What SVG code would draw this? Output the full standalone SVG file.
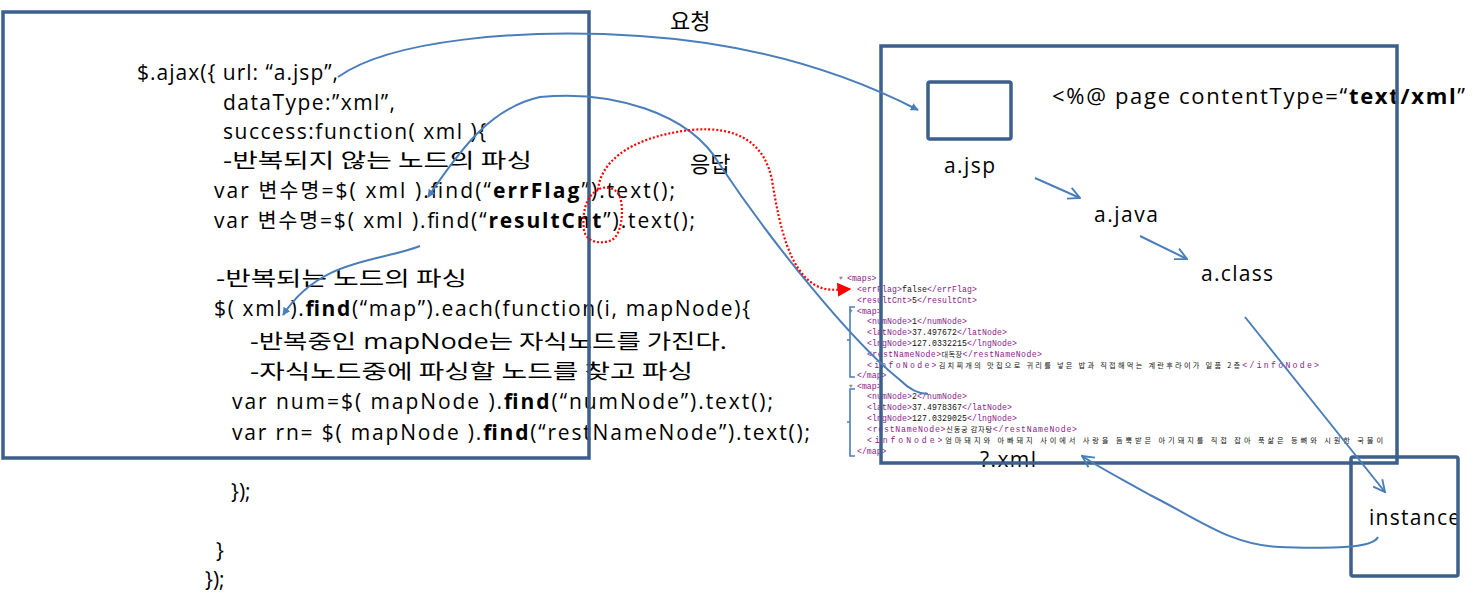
<svg xmlns="http://www.w3.org/2000/svg" width="1482" height="609" viewBox="0 0 1482 609">
<defs>
<style>
.t{font-family:"Open Sans","Noto Sans CJK KR",sans-serif;font-size:21px;fill:#000}
.k{font-family:"Noto Sans CJK KR",sans-serif;font-size:20.5px}
.kl{font-family:"Noto Sans CJK KR",sans-serif;font-size:22px}
.b{font-weight:bold}
.x{font-family:"Liberation Mono","Noto Sans CJK KR",monospace;font-size:8.2px;fill:#111}
.xk{font-family:"Noto Sans CJK KR",sans-serif;font-size:7.2px}
.g{fill:#8B1A89}
.tri{fill:#888;font-size:6px}
.box{fill:none;stroke:#3C5F8C;stroke-width:3.5}
.con{fill:none;stroke:#4A7EBB;stroke-width:2}
.red{fill:none;stroke:#FF0000;stroke-width:2.2;stroke-dasharray:2 2}
.br{fill:none;stroke:#4A7EBB;stroke-width:1.6}
</style>
<marker id="af" viewBox="0 0 10 10" refX="9" refY="5" markerWidth="8" markerHeight="8" markerUnits="userSpaceOnUse" orient="auto-start-reverse"><path d="M0,0 L10,5 L0,10 Z" fill="#4A7EBB"/></marker>
<marker id="ao" viewBox="0 0 12 12" refX="11" refY="6" markerWidth="14" markerHeight="14" markerUnits="userSpaceOnUse" orient="auto"><path d="M1,1 L11,6 L1,11" fill="none" stroke="#4A7EBB" stroke-width="1.6"/></marker>
<marker id="ar" viewBox="0 0 10 10" refX="9" refY="5" markerWidth="14" markerHeight="14" markerUnits="userSpaceOnUse" orient="auto"><path d="M0,0 L10,5 L0,10 Z" fill="#FF0000"/></marker>
</defs>
<rect width="1482" height="609" fill="#fff"/>

<g id="code">
<text class="t" x="137" y="80" textLength="201">$.ajax({ url: “a.jsp”,</text>
<text class="t" x="223" y="110" textLength="172">dataType:”xml”,</text>
<text class="t" x="223" y="139" textLength="263">success:function( xml ){</text>
<text class="t" x="223" y="168" textLength="309" lengthAdjust="spacingAndGlyphs">-<tspan class="k">반복되지 않는 노드의 파싱</tspan></text>
<text class="t" x="214" y="198" textLength="461">var <tspan class="k">변수명</tspan>=$( xml ).find(“<tspan class="b">errFlag</tspan>”).text();</text>
<text class="t" x="214" y="228" textLength="481">var <tspan class="k">변수명</tspan>=$( xml ).find(“<tspan class="b">resultCnt</tspan>”).text();</text>
<text class="t" x="216" y="286" textLength="251" lengthAdjust="spacingAndGlyphs">-<tspan class="k">반복되는 노드의 파싱</tspan></text>
<text class="t" x="214" y="316" textLength="536">$( xml ).<tspan class="b">find</tspan>(“map”).each(function(i, mapNode){</text>
<text class="t" x="250" y="349" textLength="477" lengthAdjust="spacingAndGlyphs">-<tspan class="k">반복중인</tspan> mapNode<tspan class="k">는 자식노드를 가진다</tspan>.</text>
<text class="t" x="250" y="379" textLength="443" lengthAdjust="spacingAndGlyphs">-<tspan class="k">자식노드중에 파싱할 노드를 찾고 파싱</tspan></text>
<text class="t" x="232" y="409" textLength="541">var num=$( mapNode ).<tspan class="b">find</tspan>(“numNode”).text();</text>
<text class="t" x="232" y="440" textLength="578">var rn= $( mapNode ).<tspan class="b">find</tspan>(“restNameNode”).text();</text>
<text class="t" x="231" y="499">});</text>
<text class="t" x="216" y="558">}</text>
<text class="t" x="205" y="587">});</text>
</g>

<g id="labels">
<text class="t kl" x="670" y="29">요청</text>
<text class="t kl" x="690" y="172">응답</text>
<text class="t" x="1052" y="104" textLength="413" style="font-size:22px">&lt;%@ page contentType=“<tspan class="b">text/xml</tspan>”</text>
<text class="t" x="944" y="173" textLength="51">a.jsp</text>
<text class="t" x="1094" y="222" textLength="64">a.java</text>
<text class="t" x="1201" y="281" textLength="72">a.class</text>
<text class="t" x="980" y="467" textLength="56">?.xml</text>
<text class="t" x="1369" y="525" textLength="91">instance</text>
</g>

<g id="xml">
<text class="x tri" x="839" y="280">▼</text>
<text class="x" x="847" y="281"><tspan class="g">&lt;maps&gt;</tspan></text>
<text class="x" x="857" y="292" textLength="120"><tspan class="g">&lt;errFlag&gt;</tspan>false<tspan class="g">&lt;/errFlag&gt;</tspan></text>
<text class="x" x="857" y="303" textLength="120"><tspan class="g">&lt;resultCnt&gt;</tspan>5<tspan class="g">&lt;/resultCnt&gt;</tspan></text>
<text class="x tri" x="849" y="313">▼</text>
<text class="x" x="857" y="314"><tspan class="g">&lt;map&gt;</tspan></text>
<text class="x" x="867" y="324" textLength="100"><tspan class="g">&lt;numNode&gt;</tspan>1<tspan class="g">&lt;/numNode&gt;</tspan></text>
<text class="x" x="867" y="335" textLength="140"><tspan class="g">&lt;latNode&gt;</tspan>37.497672<tspan class="g">&lt;/latNode&gt;</tspan></text>
<text class="x" x="867" y="346" textLength="150"><tspan class="g">&lt;lngNode&gt;</tspan>127.0332215<tspan class="g">&lt;/lngNode&gt;</tspan></text>
<text class="x" x="867" y="356.5" textLength="175"><tspan class="g">&lt;restNameNode&gt;</tspan><tspan class="xk">대독장</tspan><tspan class="g">&lt;/restNameNode&gt;</tspan></text>
<text class="x" x="867" y="367.5" textLength="452"><tspan class="g">&lt;infoNode&gt;</tspan><tspan class="xk">김치찌개의 맛집으로 귀리를 넣은 밥과 직접해먹는 계란후라이가 일품 2층</tspan><tspan class="g">&lt;/infoNode&gt;</tspan></text>
<text class="x" x="857" y="378"><tspan class="g">&lt;/map&gt;</tspan></text>
<text class="x tri" x="849" y="388">▼</text>
<text class="x" x="857" y="389"><tspan class="g">&lt;map&gt;</tspan></text>
<text class="x" x="867" y="399" textLength="100"><tspan class="g">&lt;numNode&gt;</tspan>2<tspan class="g">&lt;/numNode&gt;</tspan></text>
<text class="x" x="867" y="410" textLength="145"><tspan class="g">&lt;latNode&gt;</tspan>37.4978367<tspan class="g">&lt;/latNode&gt;</tspan></text>
<text class="x" x="867" y="421" textLength="150"><tspan class="g">&lt;lngNode&gt;</tspan>127.0329025<tspan class="g">&lt;/lngNode&gt;</tspan></text>
<text class="x" x="867" y="431.5" textLength="210"><tspan class="g">&lt;restNameNode&gt;</tspan><tspan class="xk">신동궁 감자탕</tspan><tspan class="g">&lt;/restNameNode&gt;</tspan></text>
<text class="x" x="867" y="442.5" textLength="516"><tspan class="g">&lt;infoNode&gt;</tspan><tspan class="xk">엄마돼지와 아빠돼지 사이에서 사랑을 듬뿍받은 아기돼지를 직접 잡아 푹삶은 등뼈와 시원한 국물이</tspan></text>
<text class="x" x="857" y="454"><tspan class="g">&lt;/map&gt;</tspan></text>
<path class="br" d="M855,307 L850,307 L850,377 L855,377 M850,340 L847,340"/>
<path class="br" d="M855,389 L850,389 L850,456 L855,456 M850,422 L847,422"/>
</g>

<g id="left-box"><rect class="box" x="3" y="12" width="586" height="446"/></g>
<g id="server-box"><rect class="box" x="881" y="46" width="516" height="417"/></g>
<g id="ajsp-box"><rect class="box" x="928" y="82" width="83" height="57" rx="2"/></g>
<g id="instance-box"><rect class="box" x="1351" y="457" width="107" height="119" rx="2"/></g>

<g id="connectors">
<path class="con" d="M338,77 C390,40 520,28 640,36 C760,44 850,75 918,110" marker-end="url(#af)"/>
<path class="con" d="M428,197 C460,150 490,108 540,97 C610,90 690,112 720,165 C770,240 850,340 900,380 C910,390 918,394 928,394" marker-start="url(#af)"/>
<path class="con" d="M420,246 C380,262 320,258 283,315" marker-end="url(#af)"/>
<path class="con" d="M1378,537 C1372,550 1320,548 1280,547 C1230,545 1200,520 1150,495 C1120,478 1100,468 1082,456" marker-end="url(#ao)"/>
<path class="con" d="M1035,178 L1080,198" marker-end="url(#ao)"/>
<path class="con" d="M1140,236 L1187,259" marker-end="url(#ao)"/>
<path class="con" d="M1245,317 L1385,492" marker-end="url(#ao)"/>
<path class="red" d="M598,190 C585,196 582,215 584,230 C586,242 600,245 612,240 C622,234 624,210 620,197 C616,186 602,186 598,190 C600,165 625,138 690,130 C740,125 765,145 772,180 C780,230 790,270 815,285 C825,291 835,290 850,289" marker-end="url(#ar)"/>
</g>
</svg>
